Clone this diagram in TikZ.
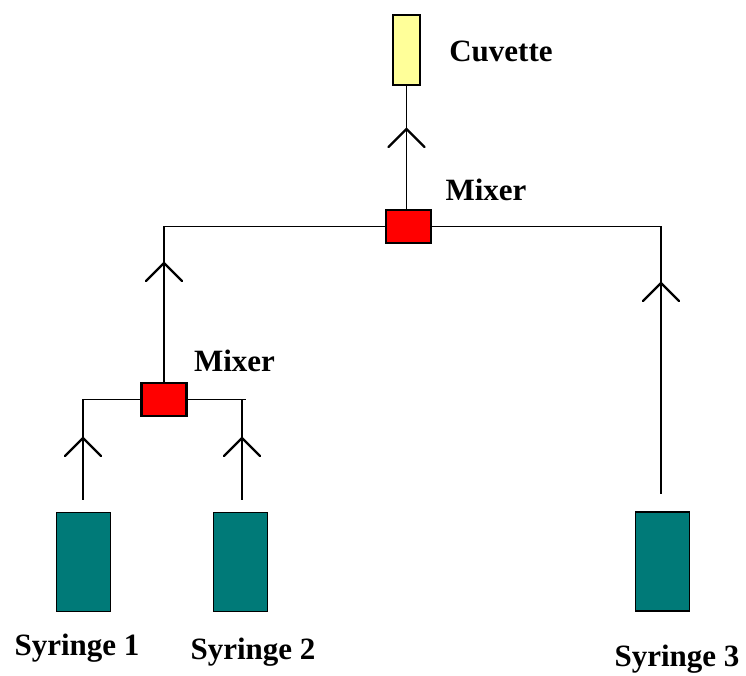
\documentclass[tikz,border=0pt]{standalone}
\usepackage{fontspec}
\setmainfont{Liberation Serif}
\usetikzlibrary{calc}
\definecolor{syrc}{HTML}{007A78}
\definecolor{cuvc}{HTML}{FFFF99}
\definecolor{mixc}{HTML}{FF0000}
\begin{document}
\begin{tikzpicture}[x=1pt,y=-1pt,
  box/.style={draw=black, inner sep=0pt, outer sep=0pt},
  syr/.style={box, line width=1.3pt, fill=syrc, minimum width=54pt, minimum height=99pt},
  mix/.style={box, line width=2.4pt, fill=mixc, minimum width=45pt, minimum height=33pt},
  cuv/.style={box, line width=1.2pt, fill=cuvc, minimum width=27pt, minimum height=70pt},
  lbl/.style={font=\fontsize{31}{34}\selectfont\bfseries, inner sep=0pt, anchor=base},
  pipe/.style={line width=1.3pt},
  arm/.style={line width=2.2pt, line cap=round},
  chev/.pic={\draw[arm] (-18,18) -- (0,0) -- (18,18);}]
\useasboundingbox (0,0) rectangle (746,675);
% components
\node[cuv] (cuv) at (406.5,50) {};
\node[mix] (mix1) at (408.5,226.5) {};
\node[mix] (mix2) at (164,399.5) {};
\node[syr] (syr1) at (83.5,562) {};
\node[syr] (syr2) at (240.5,562) {};
\node[syr] (syr3) at (662.5,561.5) {};
% labels
\node[lbl] (lcuv) at (501,61) {Cuvette};
\node[lbl] (lmix1) at (486,200) {Mixer};
\node[lbl] (lmix2) at (234.5,371) {Mixer};
\node[lbl] (ls1) at (77,655) {Syringe 1};
\node[lbl] (ls2) at (253,659) {Syringe 2};
\node[lbl] (ls3) at (677,666) {Syringe 3};
% free ends
\coordinate (e1) at (83,500);
\coordinate (e2) at (242,500);
\coordinate (e3) at (661,494);
\coordinate (j2) at (246,399.5);
% connectors
\draw[pipe] (cuv.south) -- (cuv.south |- mix1.north);
\draw[pipe] (mix1.west) -- (mix1.west -| mix2.north) -- (mix2.north);
\draw[pipe] (mix1.east) -- (mix1.east -| e3) -- (e3);
\draw[pipe] (mix2.west) -- (mix2.west -| e1) -- (e1);
\draw[pipe] (mix2.east) -- (j2);
\draw[pipe] (j2 -| e2) -- (e2);
% flow arrows
\pic at (406.5,129) {chev};
\pic at (164,263) {chev};
\pic at (661,283) {chev};
\pic at (83,438) {chev};
\pic at (242,438) {chev};
\end{tikzpicture}
\end{document}
